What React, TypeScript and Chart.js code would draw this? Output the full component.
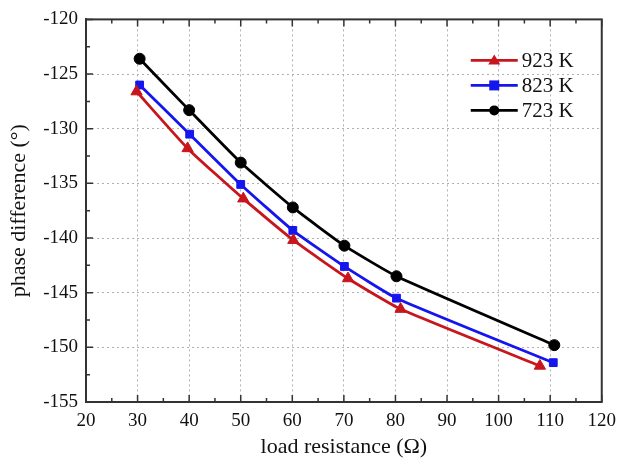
import React, { useEffect, useRef } from "react";
import { Chart, registerables } from "chart.js";

Chart.register(...registerables);

const seriesNames = ["923 K", "823 K", "723 K"];
const x923 = [29.8, 39.7, 50.5, 60.2, 70.8, 81.0, 108.0];
const y923 = [-126.6, -131.8, -136.4, -140.2, -143.7, -146.5, -151.7];
const x823 = [30.4, 40.1, 50.0, 60.1, 70.1, 80.2, 110.6];
const y823 = [-126.0, -130.5, -135.1, -139.3, -142.6, -145.5, -151.4];
const x723 = [30.4, 40.0, 50.0, 60.1, 70.1, 80.2, 110.8];
const y723 = [-123.6, -128.3, -133.1, -137.2, -140.7, -143.5, -149.8];

const xTickValues = [20, 30, 40, 50, 60, 70, 80, 90, 100, 110, 120];
const yTickValues = [-155, -150, -145, -140, -135, -130, -125, -120];

const colors = ["#c8161d", "#1515ee", "#000000"];
const pointStyles = ["triangle", "rect", "circle"];
const pointRadii = [6.5, 5.5, 5.5];

const FONT = "'Liberation Serif', 'Times New Roman', serif";

const toPts = (xs: number[], ys: number[]) => xs.map((x, i) => ({ x, y: ys[i] }));

const framePlugin = {
  id: "frameTicks",
  afterDraw(chart: any) {
    const ctx = chart.ctx;
    const { left, right, top, bottom } = chart.chartArea;
    const xs = chart.scales.x;
    const ys = chart.scales.y;
    ctx.save();
    ctx.strokeStyle = "#333";
    ctx.lineWidth = 2;
    ctx.strokeRect(left, top, right - left, bottom - top);
    ctx.lineWidth = 1.5;
    ctx.beginPath();
    for (let i = 0; i < xTickValues.length; i++) {
      const v = xTickValues[i];
      const px = xs.getPixelForValue(v);
      ctx.moveTo(px, bottom); ctx.lineTo(px, bottom - 7);
      ctx.moveTo(px, top); ctx.lineTo(px, top + 7);
      if (i < xTickValues.length - 1) {
        const m = xs.getPixelForValue(v + 5);
        ctx.moveTo(m, bottom); ctx.lineTo(m, bottom - 4);
        ctx.moveTo(m, top); ctx.lineTo(m, top + 4);
      }
    }
    for (let i = 0; i < yTickValues.length; i++) {
      const v = yTickValues[i];
      const py = ys.getPixelForValue(v);
      ctx.moveTo(left, py); ctx.lineTo(left + 7, py);
      if (i < yTickValues.length - 1) {
        const m = ys.getPixelForValue(v + 2.5);
        ctx.moveTo(left, m); ctx.lineTo(left + 4, m);
      }
    }
    ctx.stroke();

    // legend inside plot
    const lx0 = right - 131;
    const lx1 = right - 84;
    const ly0 = top + 41;
    const step = 25;
    chart.data.datasets.forEach((ds: any, i: number) => {
      const y = ly0 + i * step;
      ctx.strokeStyle = ds.borderColor;
      ctx.lineWidth = 2.8;
      ctx.beginPath();
      ctx.moveTo(lx0, y);
      ctx.lineTo(lx1, y);
      ctx.stroke();
      ctx.fillStyle = ds.backgroundColor;
      ctx.strokeStyle = ds.borderColor;
      ctx.lineWidth = 1;
      const cx = (lx0 + lx1) / 2;
      const r = 5;
      ctx.beginPath();
      if (ds.pointStyle === "triangle") {
        ctx.moveTo(cx, y - r - 1);
        ctx.lineTo(cx + r + 1, y + r - 1);
        ctx.lineTo(cx - r - 1, y + r - 1);
        ctx.closePath();
      } else if (ds.pointStyle === "rect") {
        ctx.rect(cx - r, y - r, 2 * r, 2 * r);
      } else {
        ctx.arc(cx, y, r, 0, Math.PI * 2);
      }
      ctx.fill();
      ctx.fillStyle = "#111";
      ctx.font = `21px ${FONT}`;
      ctx.textAlign = "left";
      ctx.textBaseline = "middle";
      ctx.fillText(ds.label, lx1 + 4, y + 1);
    });
    ctx.restore();
  },
};

export default function App() {
  const ref = useRef<HTMLCanvasElement | null>(null);
  useEffect(() => {
    if (!ref.current) return;
    const xsList = [x923, x823, x723];
    const ysList = [y923, y823, y723];
    const chart = new Chart(ref.current, {
      type: "line",
      data: {
        datasets: seriesNames.map((name, i) => ({
          label: name,
          data: toPts(xsList[i], ysList[i]),
          borderColor: colors[i],
          backgroundColor: colors[i],
          borderWidth: 2.8,
          pointStyle: pointStyles[i] as any,
          pointRadius: pointRadii[i],
          pointBorderWidth: 1,
          tension: 0.15,
          fill: false,
        })),
      },
      options: {
        animation: false,
        responsive: false,
        maintainAspectRatio: false,
        layout: { padding: { top: 19, right: 16, left: 0, bottom: 0 } },
        plugins: { legend: { display: false }, tooltip: { enabled: false } },
        scales: {
          x: {
            type: "linear",
            min: 20,
            max: 120,
            afterBuildTicks: (s: any) => { s.ticks = xTickValues.map((v) => ({ value: v })); },
            afterFit: (s: any) => { s.height = 58; },
            grid: { color: "#b0b0b0", lineWidth: 1, drawTicks: false },
            border: { display: true, color: "#333", width: 2, dash: [2, 3] },
            ticks: { color: "#111", font: { family: FONT, size: 19 }, padding: 8, maxRotation: 0 },
            title: { display: true, text: "load resistance (Ω)", color: "#111", font: { family: FONT, size: 22 }, padding: { top: 0, bottom: 0 } },
          },
          y: {
            type: "linear",
            min: -155,
            max: -120,
            afterBuildTicks: (s: any) => { s.ticks = yTickValues.map((v) => ({ value: v })); },
            afterFit: (s: any) => { s.width = 86; },
            grid: { color: "#b0b0b0", lineWidth: 1, drawTicks: false },
            border: { display: true, color: "#333", width: 2, dash: [2, 3] },
            ticks: { color: "#111", font: { family: FONT, size: 19 }, padding: 8 },
            title: { display: true, text: "phase difference (°)", color: "#111", font: { family: FONT, size: 22 }, padding: { top: 6, bottom: 0 } },
          },
        },
      },
      plugins: [framePlugin],
    });
    return () => chart.destroy();
  }, []);
  return (
    <div style={{ position: "fixed", left: 0, top: 0, width: 624, height: 460, background: "#fff" }}>
      <canvas ref={ref} width={624} height={460} style={{ width: 624, height: 460 }} />
    </div>
  );
}
